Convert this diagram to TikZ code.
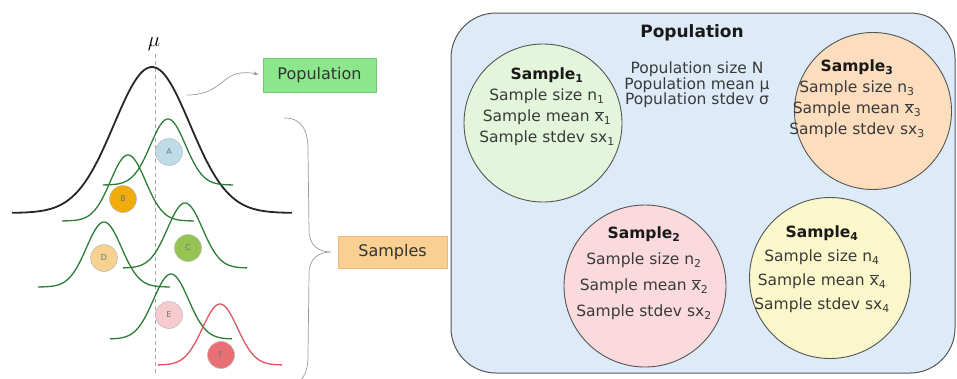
\documentclass[tikz,border=0pt]{standalone}
\usepackage{fontspec}
\setmainfont{DejaVu Sans}
\usetikzlibrary{arrows.meta}

\definecolor{curvegreen}{RGB}{45,125,55}
\definecolor{curvered}{RGB}{222,85,95}
\definecolor{fillA}{RGB}{190,220,232}
\definecolor{fillB}{RGB}{240,172,10}
\definecolor{fillC}{RGB}{150,196,82}
\definecolor{fillD}{RGB}{246,210,145}
\definecolor{fillE}{RGB}{246,202,206}
\definecolor{fillF}{RGB}{232,112,116}
\definecolor{popgreen}{RGB}{140,230,140}
\definecolor{popgreenline}{RGB}{115,200,115}
\definecolor{samporange}{RGB}{249,208,145}
\definecolor{samporangeline}{RGB}{232,185,120}
\definecolor{panelfill}{RGB}{221,235,248}
\definecolor{s1fill}{RGB}{227,245,218}
\definecolor{s2fill}{RGB}{250,218,220}
\definecolor{s3fill}{RGB}{252,221,190}
\definecolor{s4fill}{RGB}{250,247,203}
\definecolor{bodytext}{RGB}{58,58,58}
\definecolor{edgegray}{RGB}{85,85,85}

% normal density curve: style, centre x, baseline y, height, sigma, half-width
\newcommand{\bellcurve}[6]{%
  \draw[#1] plot[domain=-#6:#6, samples=90, smooth]
    ({#2+\x}, {#3-#4*exp(-0.5*(\x/#5)^2)});
}

\begin{document}
\begin{tikzpicture}[x=1pt, y=-1pt,
  popcurve/.style={line width=1.8pt, black!85},
  samplecurve/.style={line width=1.3pt, curvegreen},
  redcurve/.style={line width=1.3pt, curvered},
  meanline/.style={gray!70, line width=0.8pt, dash pattern=on 4pt off 3pt},
  lettercirc/.style={circle, minimum size=27pt, inner sep=0pt, draw=gray!55,
    line width=0.5pt, font=\fontsize{8}{8}\selectfont, text=black!55},
  labelbox/.style={rectangle, inner sep=0pt, line width=0.8pt,
    font=\fontsize{16}{16}\selectfont, text=black!80},
  thinconn/.style={gray!80, line width=0.7pt},
  panelbox/.style={rectangle, rounded corners=45pt, draw=edgegray,
    line width=1pt, fill=panelfill, minimum width=504pt, minimum height=360pt},
  samplecircle/.style={circle, draw=edgegray, line width=0.9pt, inner sep=0pt},
  sampletext/.style={align=center, text=bodytext, inner sep=0pt,
    font=\fontsize{15.5}{#1}\selectfont},
  paramtext/.style={align=center, text=bodytext, inner sep=0pt,
    font=\fontsize{15.5}{15.5}\selectfont},
  paneltitle/.style={inner sep=0pt, text=black!90,
    font=\fontsize{17}{17}\selectfont\bfseries}
]
\useasboundingbox (0,0) rectangle (957,378);

% ---- left: population curve and sample curves ----
\node[inner sep=0pt, font=\fontsize{21}{21}\selectfont] (mu) at (154,44) {$\mu$};
\coordinate (meantop) at (155,54);
\coordinate (meanbot) at (155,374);
\draw[meanline] (meantop) -- (meanbot);

\bellcurve{popcurve}{152}{213}{146}{38}{140}
\bellcurve{samplecurve}{168}{185}{66}{17.5}{65}
\bellcurve{samplecurve}{128}{221}{66}{17.5}{66}
\bellcurve{samplecurve}{185}{268}{65}{17.5}{62}
\bellcurve{samplecurve}{104}{287}{65}{17.5}{66}
\bellcurve{samplecurve}{171}{339}{65}{17.5}{61}
\bellcurve{redcurve}{220}{365}{61}{17.5}{62}

\node[lettercirc, fill=fillA] (sA) at (169,152) {A};
\node[lettercirc, fill=fillB] (sB) at (123,199) {B};
\node[lettercirc, fill=fillC] (sC) at (188,248) {C};
\node[lettercirc, fill=fillD] (sD) at (104,258) {D};
\node[lettercirc, fill=fillE] (sE) at (169,315) {E};
\node[lettercirc, fill=fillF] (sF) at (221,355) {F};

% ---- labels for the left part ----
\node[labelbox, fill=popgreen, draw=popgreenline,
  minimum width=113pt, minimum height=34pt] (poplabel) at (319.5,75) {Population};
\node[labelbox, fill=samporange, draw=samporangeline,
  minimum width=109pt, minimum height=32pt] (samples) at (392.5,252) {Samples};

\coordinate (popcurvept) at (187,95);
\draw[thinconn, -{Stealth[length=5pt, width=4pt]}, shorten >=4pt]
  (popcurvept) .. controls (226,95) and (220,67) .. (poplabel.west);

\coordinate (bracetop) at (284,118);
\coordinate (bracetip) at (331,252);
\coordinate (bracebot) at (284,386);
\draw[thinconn]
  (bracetop) .. controls (302,118) and (308,130) .. (308,150)
  -- (309,230) .. controls (309,245) and (318,252) .. (bracetip)
  .. controls (318,252) and (309,259) .. (309,274)
  -- (308,356) .. controls (308,374) and (302,386) .. (bracebot);

% ---- right: population with its samples ----
\node[panelbox] (panel) at (703,193) {};
\node[paneltitle] (poptitle) at (692,33) {Population};
\node[paramtext] (popparams) at (697,85)
  {Population size N\\Population mean μ\\Population stdev σ};

\node[samplecircle, fill=s1fill, minimum size=158pt] (s1) at (543,123) {};
\node[samplecircle, fill=s3fill, minimum size=157pt] (s3) at (873,111) {};
\node[samplecircle, fill=s2fill, minimum size=162pt] (s2) at (645,286) {};
\node[samplecircle, fill=s4fill, minimum size=161pt] (s4) at (830,278) {};

\node[sampletext=21pt] (s1text) at (547,107)
  {\textbf{\color{black!90}Sample\textsubscript{1}}\\Sample size n\textsubscript{1}\\
   Sample mean $\overline{\mbox{x}}$\textsubscript{1}\\Sample stdev sx\textsubscript{1}};
\node[sampletext=21pt] (s3text) at (857,99)
  {\textbf{\color{black!90}Sample\textsubscript{3}}\\Sample size n\textsubscript{3}\\
   Sample mean $\overline{\mbox{x}}$\textsubscript{3}\\Sample stdev sx\textsubscript{3}};
\node[sampletext=26pt] (s2text) at (644,273)
  {\textbf{\color{black!90}Sample\textsubscript{2}}\\Sample size n\textsubscript{2}\\
   Sample mean $\overline{\mbox{x}}$\textsubscript{2}\\Sample stdev sx\textsubscript{2}};
\node[sampletext=24pt] (s4text) at (822,269)
  {\textbf{\color{black!90}Sample\textsubscript{4}}\\Sample size n\textsubscript{4}\\
   Sample mean $\overline{\mbox{x}}$\textsubscript{4}\\Sample stdev sx\textsubscript{4}};
\end{tikzpicture}
\end{document}
